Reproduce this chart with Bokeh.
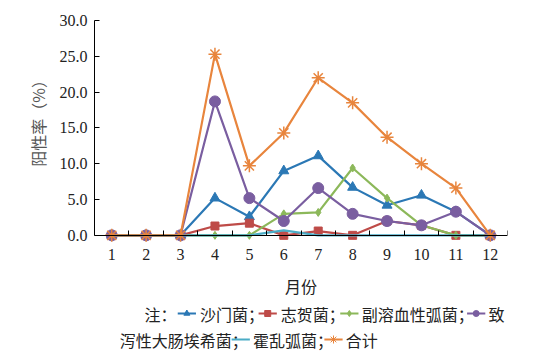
from bokeh.plotting import figure
from bokeh.layouts import column
from bokeh.models import FixedTicker, NumeralTickFormatter, Range1d, LinearAxis
from bokeh.core.properties import value
from bokeh.embed import file_html
from bokeh.resources import INLINE

months = [1, 2, 3, 4, 5, 6, 7, 8, 9, 10, 11, 12]
salmonella = [0, 0, 0, 5.2, 2.6, 9.0, 11.1, 6.7, 4.2, 5.6, 3.3, 0]
shigella = [0, 0, 0, 1.3, 1.7, 0, 0.6, 0, 2.0, 1.4, 0, 0]
vparahaem = [0, 0, 0, 0, 0, 3.0, 3.2, 9.4, 5.2, 1.4, 0, 0]
ecoli = [0, 0, 0, 18.7, 5.2, 2.0, 6.6, 3.0, 2.0, 1.4, 3.3, 0]
cholera = [0, 0, 0, 0, 0, 0.7, 0, 0, 0, 0, 0, 0]
total = [0, 0, 0, 25.3, 9.7, 14.3, 22.0, 18.5, 13.7, 10.0, 6.6, 0]
y_ticks = [0, 5, 10, 15, 20, 25, 30]

names = ["沙门菌", "志贺菌", "副溶血性弧菌", "致泻性大肠埃希菌", "霍乱弧菌", "合计"]
colors = ["#2b78b5", "#be4b48", "#8cb85a", "#7a5ea0", "#4bacc6", "#e8853d"]
markers = ["triangle", "square", "diamond", "circle", "none", "asterisk"]
msizes = [10, 8, 8, 11, 0, 13]
series = [salmonella, shigella, vparahaem, ecoli, cholera, total]

SERIF = "Liberation Serif"
CJK = "Noto Sans CJK SC"

p = figure(width=521, height=300, x_range=Range1d(0.5, 12.5), y_range=Range1d(-1, 30),
           output_backend="svg", toolbar_location=None,
           min_border_left=94, min_border_right=14, min_border_top=20, min_border_bottom=54)
p.outline_line_color = None
p.xgrid.visible = False
p.ygrid.visible = False
p.background_fill_color = "white"

for ys, c, m, s in zip(series, colors, markers, msizes):
    p.line(months, ys, line_color=c, line_width=2.2)
    if m != "none":
        if m == "asterisk":
            p.scatter(months, ys, marker=m, size=s, line_color=c, line_width=1.5)
        else:
            p.scatter(months, ys, marker=m, size=s, fill_color=c, line_color=c)

# axis line at y = 0 with category-boundary ticks
xa0 = LinearAxis(fixed_location=0,
                 ticker=FixedTicker(ticks=[], minor_ticks=[m - 0.5 for m in months] + [12.5]))
xa0.major_tick_in = 0
xa0.major_tick_out = 0
xa0.minor_tick_in = 0
xa0.minor_tick_out = 5
xa0.axis_line_color = "black"
xa0.minor_tick_line_color = "black"
xa0.major_label_text_font_size = "0px"
xa0.major_label_standoff = 0
p.add_layout(xa0, "above")

# month labels axis
xb = p.below[0]
xb.ticker = FixedTicker(ticks=months, minor_ticks=[])
xb.axis_line_color = None
xb.major_tick_line_color = None
xb.minor_tick_line_color = None
xb.major_tick_in = 0
xb.major_tick_out = 0
xb.major_label_text_font = SERIF
xb.major_label_text_font_size = "16px"
xb.major_label_text_color = "#222"
xb.major_label_standoff = 6
xb.axis_label = "月份"
xb.axis_label_text_font = CJK
xb.axis_label_text_font_size = "16px"
xb.axis_label_text_font_style = "normal"
xb.axis_label_text_color = "#222"
xb.axis_label_standoff = 11

ya = p.yaxis[0]
ya.bounds = (0, 30)
ya.ticker = FixedTicker(ticks=y_ticks, minor_ticks=[])
ya.formatter = NumeralTickFormatter(format="0.0")
ya.major_tick_in = 5
ya.major_tick_out = 0
ya.axis_line_color = "black"
ya.major_tick_line_color = "black"
ya.major_label_text_font = SERIF
ya.major_label_text_font_size = "16px"
ya.major_label_text_color = "#222"
ya.major_label_standoff = 7
ya.axis_label = "\u3000\u2002阳性率（%）"
ya.axis_label_text_font = CJK
ya.axis_label_text_font_size = "16px"
ya.axis_label_text_font_style = "normal"
ya.axis_label_text_color = "#555"
ya.axis_label_standoff = 7

# legend panel
lg = figure(width=521, height=53, x_range=Range1d(0, 521), y_range=Range1d(53, 0),
            output_backend="svg", toolbar_location=None, min_border=0)
lg.axis.visible = False
lg.xgrid.visible = False
lg.ygrid.visible = False
lg.outline_line_color = None

r1, r2 = 13, 39
texts = [("注：", 63, r1), ("沙门菌；", 133, r1), ("志贺菌；", 235, r1),
         ("副溶血性弧菌；", 337, r1), ("致", 497, r1),
         ("泻性大肠埃希菌；", 32, r2), ("霍乱弧菌；", 200, r2), ("合计", 317, r2)]
lg.text(x=[t[1] for t in texts], y=[t[2] for t in texts], text=[t[0] for t in texts],
        text_font=value(CJK), text_font_size="16px", text_color="#222",
        text_align="left", text_baseline="middle")

samples = [(105, r1), (207, r1), (310, r1), (470, r1), (173, r2), (290, r2)]
for (x0, yy), c, m in zip(samples, colors, markers):
    lg.line([x0, x0 + 23], [yy, yy], line_color=c, line_width=2)
    if m != "none":
        if m == "asterisk":
            lg.scatter([x0 + 11.5], [yy], marker=m, size=8, line_color=c, line_width=1)
        else:
            lg.scatter([x0 + 11.5], [yy], marker=m, size=6, fill_color=c, line_color=c)

layout = column(p, lg)
open("out.html", "w").write(file_html(layout, INLINE))
